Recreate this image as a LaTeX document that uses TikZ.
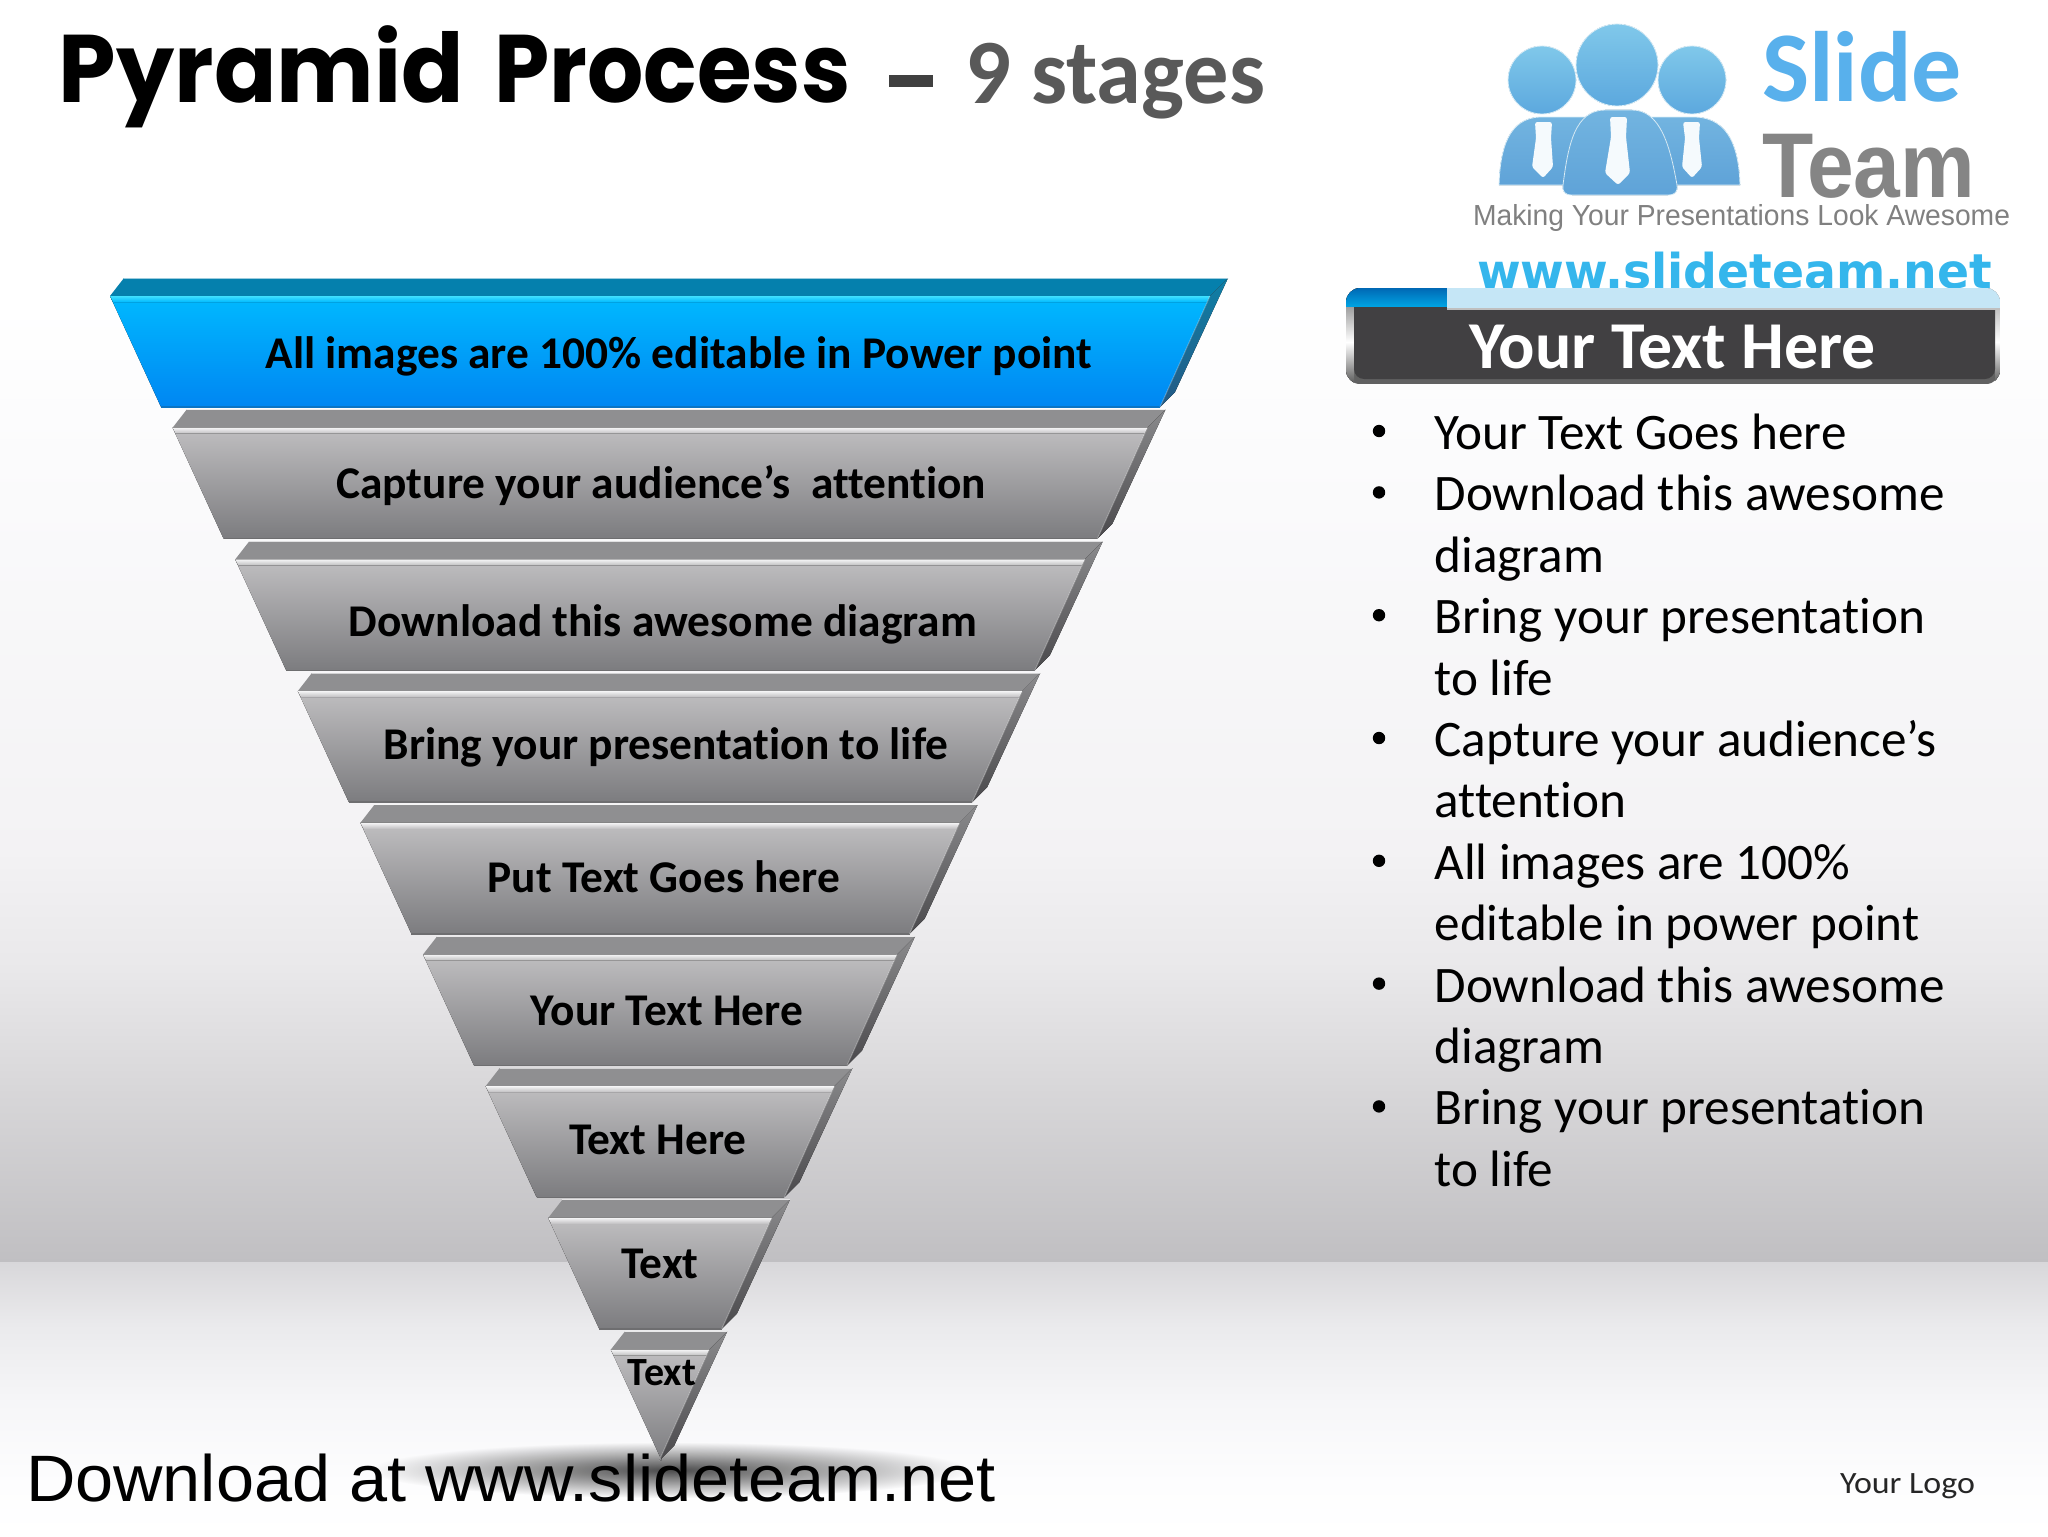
\documentclass[tikz,border=0pt]{standalone}
\usepackage{graphicx}
\usepackage{fontspec}
\setmainfont{Carlito}[Ligatures=NoCommon]
\newfontfamily\libsans{Liberation Sans}
\newfontfamily\popp{Poppins}
\newfontfamily\dejab{DejaVu Sans}
\usetikzlibrary{fadings,calc}
\tikzfading[name=softblob, inner color=transparent!30, outer color=transparent!100]
\newcommand{\fsz}[1]{\fontsize{#1}{#1}\selectfont}
\newcommand{\fw}[2]{\resizebox{\dimexpr #1pt/2\relax}{\height}{#2}}
\definecolor{lgA}{HTML}{80C8EA}
\definecolor{lgB}{HTML}{5CA8DE}
\definecolor{bodyA}{HTML}{72B4E0}
\definecolor{bodyB}{HTML}{5FA3D8}
\definecolor{wa}{HTML}{FBFBFC}
\definecolor{wb}{HTML}{F3F2F4}
\definecolor{wc}{HTML}{E9E8EA}
\definecolor{wd}{HTML}{D8D7D9}
\definecolor{we}{HTML}{C0BFC2}
\definecolor{fa}{HTML}{D8D7DA}
\definecolor{fb}{HTML}{EAEAEC}
\definecolor{fc}{HTML}{F6F6F8}
\definecolor{fd}{HTML}{FDFDFE}
\definecolor{bluetop}{HTML}{00B9FF}
\definecolor{bluebot}{HTML}{0086F2}
\definecolor{bluehl}{HTML}{3FE0FF}
\definecolor{blueface}{HTML}{0580AD}
\definecolor{bluesidea}{HTML}{0F7FA6}
\definecolor{bluesideb}{HTML}{245A85}
\definecolor{bluelow}{HTML}{0B74C4}
\definecolor{graytop}{HTML}{BFBEC0}
\definecolor{graybot}{HTML}{7C7C7F}
\definecolor{grayhl}{HTML}{F4F4F5}
\definecolor{grayface}{HTML}{8F8F91}
\definecolor{graysidea}{HTML}{8A8A8C}
\definecolor{graysideb}{HTML}{4A494C}
\definecolor{graylow}{HTML}{6E6E70}
\definecolor{paneldark}{HTML}{414042}
\definecolor{stripA}{HTML}{0068B4}
\definecolor{stripB}{HTML}{00A2E2}
\definecolor{stripL}{HTML}{C5E6F6}
\definecolor{slideblue}{HTML}{58B0EC}
\definecolor{wwwblue}{HTML}{35B6EC}
\tikzset{
  txt/.style={inner sep=0pt,outer sep=0pt,anchor=base west},
  lab/.style={inner sep=0pt,outer sep=0pt,anchor=base,text=black,font=\bfseries\fsz{22.7}},
  bul/.style={inner sep=0pt,outer sep=0pt,anchor=base west,text=black,font=\fsz{25.6}},
  dot/.style={circle,fill=black,inner sep=0pt,minimum size=6.2pt},
  headshade/.style={top color=lgA,bottom color=lgB,draw=white!70!lgA,line width=0.4pt},
  bodyshade/.style={top color=bodyA,bottom color=bodyB,draw=white!70!lgA,line width=0.4pt},
  tiefill/.style={fill=white!94!lgB,rounded corners=1.2pt},
}
\begin{document}
\begin{tikzpicture}[x=0.5pt,y=-0.5pt]
\useasboundingbox (0,0) rectangle (2048,1536);
\clip (0,0) rectangle (2048,1536);
% background
\fill[white] (0,0) rectangle (2048,1536);
\foreach \ya/\yb/\ca/\cb in {300/458/white/wa,457/852/wa/wb,851/970/wb/wc,969/1088/wc/wd,1087/1262/wd/we,1262/1324/fa/fb,1323/1403/fb/fc,1402/1482/fc/fd,1481/1536/fd/white}{
  \fill[top color=\ca,bottom color=\cb] (0,\ya) rectangle (2048,\yb);
}
% floor shadow
\fill[black,path fading=softblob] (670,1470) ellipse [x radius=300,y radius=28];
% tiers
\foreach \i/\pre in {0/blue,1/gray,2/gray,3/gray,4/gray,5/gray,6/gray,7/gray,8/gray}{
  \pgfmathsetmacro{\dx}{62.6*\i}
  \pgfmathsetmacro{\dy}{131.7*\i}
  \begin{scope}[shift={(0,\dy)}]
    \coordinate (fl) at (110+\dx,296);
    \coordinate (fr) at (1210-\dx,296);
    \coordinate (bl) at (161+\dx,407);
    \coordinate (br) at (1160-\dx,407);
    \coordinate (tl) at (124+\dx,278);
    \coordinate (tr) at (1228-\dx,278);
    \coordinate (sl) at (1175-\dx,392);
    \fill[\pre face] (tl) -- (tr) -- (fr) -- (fl) -- cycle;
    \fill[top color=\pre sidea,bottom color=\pre sideb] (tr) -- (fr) -- (br) -- (sl) -- cycle;
    \fill[top color=\pre top,bottom color=\pre bot] (fl) -- (fr) -- (br) -- (bl) -- cycle;
    \fill[top color=\pre hl,bottom color=\pre top] (fl) -- (fr) -- ($(fr)+(-3,6)$) -- ($(fl)+(3,6)$) -- cycle;
    \draw[\pre low,line width=0.7pt] (bl) -- (br);
    \draw[white,opacity=0.3,line width=0.5pt] (fr) -- (br);
    \draw[white,opacity=0.6,line width=0.5pt] (tl) -- (tr);
  \end{scope}
}
% tier labels
\node[lab] (t1) at (679,368.5) {All images are 100\% editable in Power point};
\node[lab] (t2) at (661,498.5) {Capture your audience’s\ \ attention};
\node[lab] (t3) at (663,636.5) {Download this awesome diagram};
\node[lab] (t4) at (666,759.5) {Bring your presentation to life};
\node[lab] (t5) at (664,892.5) {Put Text Goes here};
\node[lab] (t6) at (667,1025.5) {Your Text Here};
\node[lab] (t7) at (658,1154.5) {Text Here};
\node[lab] (t8) at (660,1278.5) {Text};
\node[lab,font=\bfseries\fsz{20}] (t9) at (662,1385) {Text};
% title
\node[txt,font=\popp\bfseries\fsz{48}] (title) at (59,103) {\fw{405}{Pyramid}\hspace{5pt} \fw{356}{Process}};
\fill[black!75] (889,75) rectangle (933,87);
\node[txt,font=\bfseries\fsz{46},text=black!65] (stage) at (965,104) {\fw{300}{9 stages}};
% logo
\fill[bodyshade] (1499,185) .. controls (1500,150) and (1508,118) .. (1540,117) -- (1590,117) -- (1590,185) -- cycle;
\fill[bodyshade] (1740,185) .. controls (1739,150) and (1730,118) .. (1695,117) -- (1650,117) -- (1650,185) -- cycle;
\fill[headshade] (1542,80) circle [radius=34];
\fill[headshade] (1692,80) circle [radius=34];
\fill[headshade] (1617,65) circle [radius=41];
\fill[bodyshade] (1572,195) .. controls (1565,195) and (1562,192) .. (1563,185) .. controls (1568,145) and (1575,110) .. (1605,110) -- (1632,110) .. controls (1660,110) and (1670,145) .. (1677,185) .. controls (1678,192) and (1675,195) .. (1668,195) -- cycle;
\fill[tiefill] (1535,122) -- (1552,122) -- (1551,138) -- (1553,167) -- (1543,178) -- (1532,167) -- (1536,138) -- cycle;
\fill[tiefill] (1683,122) -- (1700,122) -- (1699,138) -- (1702,167) -- (1692,178) -- (1682,167) -- (1685,138) -- cycle;
\fill[tiefill] (1610,117) -- (1627,117) -- (1626,137) -- (1630,173) -- (1618,185) -- (1605,173) -- (1611,137) -- cycle;
\node[txt,font=\bfseries\fsz{50},text=slideblue] (slide) at (1762,102) {\fw{200}{Slide}};
\node[txt,font=\libsans\bfseries\fsz{46},text=black!48] (team) at (1762,197) {\fw{213}{Team}};
\node[txt,font=\libsans\fsz{14.5},text=black!50] (making) at (1473,225) {\fw{537}{Making Your Presentations Look Awesome}};
\node[txt,font=\dejab\bfseries\fsz{24},text=wwwblue] (www) at (1477,288) {\fw{515}{www.slideteam.net}};
% heading panel
\begin{scope}
  \path[clip,rounded corners=7pt] (1346,288) rectangle (2000,384);
  \fill[black!62] (1346,288) rectangle (2000,384);
  \fill[top color=black!45,bottom color=black!65,middle color=white] (1346,300) rectangle (1354,384);
  \fill[top color=black!30,bottom color=black!65,middle color=white] (1995,300) rectangle (2000,384);
  \fill[paneldark] (1354,306) [rounded corners=5pt] -- (1354,379) -- (1995,379) [sharp corners] -- (1995,306) -- cycle;
  \fill[top color=stripA,bottom color=stripB] (1346,288) rectangle (1447,306);
  \fill[stripL] (1447,288) rectangle (2000,308);
  \fill[black!25] (1447,308) rectangle (2000,310);
\end{scope}
\node[txt,font=\bfseries\fsz{33.5},text=white] (head) at (1469,368.5) {\fw{407}{Your Text Here}};
% bullets
\foreach \n/\ln/\s in {a/0/Your Text Goes here,b/1/Download this awesome,c/2/diagram,d/3/Bring your presentation,e/4/to life,f/5/Capture your audience’s,g/6/attention,h/7/All images are 100\%,i/8/editable in power point,j/9/Download this awesome,k/10/diagram,l/11/Bring your presentation,m/12/to life}{
  \node[bul] (line\n) at (1434.5,449.5+61.4*\ln) {\s};
}
\foreach \n/\ln in {0/0,1/1,2/3,3/5,4/7,5/9,6/11}{
  \node[dot] (bullet\n) at (1379,431+61.4*\ln) {};
}
% footer
\node[txt,font=\libsans\fsz{32.8},text=black] (dl) at (26,1501) {\fw{970}{Download at www.slideteam.net}};
\node[txt,font=\fsz{15.5},text=black!85] (logo) at (1840,1493) {\fw{135}{Your Logo}};
\end{tikzpicture}
\end{document}
